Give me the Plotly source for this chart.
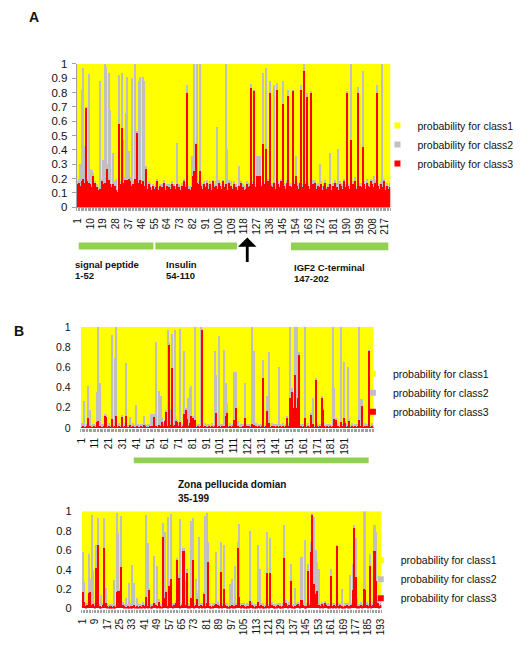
import plotly.graph_objects as go

W, H = 523, 645
def px(x): return x / W
def py(y): return 1 - y / H

# ---------------- Data ----------------
# Panel A (IGF2) : class3 (red) and class2 (gray) probabilities per residue
A_class3 = [
 .16,.17,.15,.18,.20,.17,.69,.18,.17,.16,
 .14,.22,.17,.13,.14,.12,.13,.18,.16,.17,
 .15,.27,.19,.16,.14,.16,.15,.12,.11,.58,
 .16,.55,.17,.19,.18,.19,.20,.18,.15,.16,
 .20,.14,.52,.17,.19,.16,.18,.15,.27,.13,
 .16,.14,.12,.15,.13,.14,.18,.12,.15,.14,
 .13,.17,.12,.15,.14,.13,.16,.14,.15,.13,
 .16,.14,.12,.15,.13,.18,.14,.80,.13,.12,
 .14,.22,.25,.44,.17,.16,.25,.15,.13,.16,
 .14,.17,.13,.16,.12,.18,.14,.15,.13,.17,
 .15,.13,.18,.14,.16,.12,.17,.14,.15,.13,
 .16,.14,.12,.15,.13,.17,.14,.12,.13,.16,
 .14,.15,.83,.16,.81,.14,.22,.22,.22,.15,
 .44,.16,.41,.13,.18,.80,.15,.14,.17,.13,
 .82,.16,.14,.18,.72,.15,.13,.17,.78,.15,
 .14,.81,.16,.22,.15,.13,.17,.82,.14,.95,
 .16,.77,.15,.13,.80,.16,.14,.17,.13,.15,
 .14,.16,.12,.15,.17,.13,.14,.16,.12,.15,
 .13,.17,.14,.12,.16,.15,.13,.18,.14,.80,
 .15,.13,.47,.16,.14,.18,.13,.80,.15,.14,
 .42,.16,.13,.17,.15,.14,.18,.16,.14,.17,
 .80,.15,.13,.16,.14,.18,.12,.15,.13,.14]
A_class2 = [
 .02,.03,.15,.64,.77,.26,.01,.02,.76,.11,
 .12,.02,.01,.03,.02,.02,.75,.02,.17,.83,
 .83,.03,.75,.52,.02,.22,.03,.08,.02,.34,
 .02,.39,.30,.02,.48,.72,.19,.03,.75,.02,
 .80,.02,.01,.71,.72,.03,.73,.73,.02,.02,
 .02,.03,.02,.01,.02,.03,.02,.02,.01,.02,
 .03,.02,.02,.01,.02,.03,.02,.02,.01,.02,
 .29,.02,.03,.02,.01,.02,.02,.05,.02,.03,
 .22,.02,.75,.01,.83,.02,.75,.02,.03,.02,
 .01,.02,.03,.02,.02,.01,.02,.03,.43,.02,
 .02,.03,.01,.02,.84,.29,.02,.02,.03,.01,
 .02,.02,.03,.14,.02,.01,.02,.03,.02,.02,
 .03,.02,.03,.02,.01,.02,.14,.14,.14,.02,
 .50,.02,.56,.03,.02,.08,.02,.03,.68,.02,
 .05,.02,.03,.02,.16,.02,.03,.02,.04,.02,
 .03,.01,.02,.14,.02,.03,.02,.03,.02,.05,
 .02,.03,.02,.02,.01,.03,.02,.02,.03,.02,
 .16,.02,.03,.02,.02,.01,.02,.22,.03,.02,
 .02,.02,.03,.29,.02,.02,.03,.02,.02,.01,
 .02,.03,.53,.02,.02,.03,.02,.04,.02,.03,
 .53,.02,.02,.03,.02,.02,.02,.03,.08,.02,
 .05,.02,.03,.02,.86,.02,.03,.02,.02,.03]
A_ticks = [1,10,19,28,37,46,55,64,73,82,91,100,109,118,127,136,145,154,163,172,181,190,199,208,217]

# Panel B, upper chart
B1_class3 = [
 .01,.02,.01,.01,.02,.10,.02,.01,.01,.02,
 .01,.06,.07,.02,.01,.01,.02,.12,.11,.01,
 .02,.01,.09,.01,.02,.12,.01,.02,.01,.11,
 .01,.02,.12,.01,.01,.03,.01,.02,.01,.01,
 .02,.01,.01,.02,.01,.03,.02,.01,.01,.02,
 .01,.02,.11,.01,.02,.01,.03,.02,.06,.02,
 .07,.16,.02,.82,.03,.59,.02,.03,.07,.06,
 .02,.06,.01,.02,.14,.18,.09,.02,.05,.12,
 .10,.02,.08,.01,.02,.01,.02,.97,.01,.02,
 .01,.01,.02,.01,.02,.01,.02,.15,.01,.02,
 .01,.02,.01,.02,.12,.15,.01,.02,.01,.02,
 .08,.20,.01,.02,.01,.01,.02,.01,.10,.02,
 .01,.02,.01,.04,.03,.01,.02,.01,.02,.01,
 .02,.50,.01,.02,.17,.05,.01,.02,.01,.02,
 .01,.02,.01,.02,.01,.02,.01,.02,.10,.02,
 .30,.20,.36,.20,.53,.20,.30,.72,.02,.01,
 .02,.10,.01,.02,.01,.13,.02,.04,.01,.48,
 .02,.01,.02,.30,.18,.02,.01,.02,.01,.02,
 .01,.02,.09,.08,.01,.02,.01,.06,.02,.10,
 .05,.01,.02,.07,.01,.02,.01,.02,.01,.02,
 .08,.02,.22,.01,.02,.01,.02,.76,.01,.02,
 .01]
B1_class2 = [
 .04,.02,.26,.01,.02,.32,.16,.02,.03,.02,
 .02,.30,.93,.43,.02,.03,.02,.01,.01,.02,
 .03,.02,.83,.02,.67,.88,.02,.03,.02,.01,
 .02,.03,.52,.02,.02,.08,.02,.03,.02,.22,
 .02,.03,.02,.02,.03,.09,.02,.02,.03,.02,
 .13,.12,.03,.02,.83,.02,.34,.30,.04,.02,
 .01,.01,.95,.03,.16,.34,.02,.94,.02,.02,
 .03,.92,.02,.02,.62,.01,.02,.28,.35,.30,
 .02,.03,.92,.02,.02,.03,.98,.01,.02,.03,
 .02,.03,.02,.02,.03,.02,.74,.38,.02,.89,
 .03,.02,.02,.75,.33,.10,.02,.03,.02,.02,
 .47,.35,.02,.05,.02,.03,.02,.02,.35,.02,
 .03,.02,.02,.96,.73,.02,.03,.02,.02,.03,
 .02,.17,.02,.03,.15,.70,.02,.03,.02,.02,
 .03,.02,.59,.02,.02,.03,.02,.02,.01,.03,
 .70,.05,.04,.15,.47,.80,.30,.03,.02,.03,
 .02,.90,.02,.03,.02,.01,.02,.26,.02,.02,
 .03,.02,.02,.02,.01,.03,.02,.02,.03,.02,
 .02,.98,.31,.01,.02,.03,.02,.94,.02,.55,
 .02,.03,.58,.02,.02,.03,.02,.02,.03,.02,
 .92,.27,.07,.02,.03,.02,.02,.01,.02,.03,
 .02]
B1_ticks = [1,11,21,31,41,51,61,71,81,91,101,111,121,131,141,151,161,171,181,191]

# Panel B, lower chart
B2_class3 = [
 .17,.06,.02,.03,.16,.17,.03,.04,.02,.41,
 .65,.02,.01,.03,.62,.05,.02,.01,.02,.01,
 .02,.01,.17,.18,.18,.42,.03,.02,.01,.02,
 .01,.02,.02,.03,.01,.02,.01,.02,.01,.03,
 .02,.12,.02,.19,.01,.02,.05,.03,.02,.06,
 .02,.01,.73,.10,.17,.02,.23,.30,.02,.03,
 .05,.50,.31,.02,.03,.59,.03,.36,.02,.02,
 .10,.50,.02,.03,.09,.02,.03,.02,.15,.02,
 .05,.48,.02,.01,.02,.03,.04,.03,.02,.37,
 .02,.20,.03,.02,.01,.02,.03,.02,.02,.03,
 .62,.12,.02,.03,.02,.01,.02,.02,.07,.03,
 .02,.01,.02,.06,.02,.03,.02,.01,.02,.36,
 .02,.36,.03,.02,.01,.02,.03,.02,.01,.02,
 .52,.05,.02,.03,.28,.02,.01,.02,.03,.04,
 .02,.08,.03,.02,.02,.38,.03,.58,.96,.25,
 .15,.18,.03,.02,.04,.02,.05,.03,.02,.02,
 .33,.02,.03,.02,.64,.02,.03,.02,.01,.02,
 .03,.02,.02,.03,.19,.82,.32,.02,.02,.03,
 .02,.20,.19,.03,.02,.43,.02,.03,.59,.28,
 .05,.02,.03]
B2_class2 = [
 .41,.21,.03,.02,.40,.13,.93,.34,.03,.24,
 .28,.02,.13,.02,.31,.16,.03,.02,.02,.03,
 .27,.02,.81,.59,.02,.53,.03,.02,.09,.02,
 .25,.03,.42,.23,.02,.08,.03,.02,.02,.03,
 .02,.84,.65,.01,.03,.02,.49,.02,.41,.03,
 .02,.03,.15,.68,.01,.92,.05,.67,.03,.02,
 .03,.02,.04,.90,.02,.03,.25,.04,.03,.02,
 .80,.43,.03,.27,.09,.71,.02,.03,.01,.93,
 .93,.20,.03,.02,.03,.02,.54,.03,.02,.31,
 .03,.45,.02,.03,.02,.23,.27,.03,.41,.02,
 .06,.75,.03,.02,.03,.02,.03,.02,.72,.03,
 .02,.03,.02,.59,.38,.02,.03,.02,.03,.42,
 .02,.36,.03,.02,.03,.02,.02,.03,.02,.03,
 .34,.03,.02,.03,.17,.02,.03,.19,.02,.02,
 .03,.45,.02,.68,.03,.07,.02,.10,.01,.69,
 .45,.30,.37,.02,.02,.03,.02,.02,.03,.02,
 .07,.03,.02,.02,.01,.03,.02,.18,.02,.03,
 .02,.03,.32,.02,.26,.04,.40,.08,.02,.03,
 .02,.80,.81,.03,.02,.13,.02,.03,.27,.50,
 .03,.02,.03]
B2_ticks = [1,9,17,25,33,41,49,57,65,73,81,89,97,105,113,121,129,137,145,153,161,169,177,185,193]

names = ["probability for class1", "probability for class2", "probability for class3"]
colors = ["#FFFF00", "#C0C0C0", "#FF0000"]

FONT = "Arial, Liberation Sans, sans-serif"

fig = go.Figure()
panels = [
    (A_class3, A_class2, "x", "y", "legend"),
    (B1_class3, B1_class2, "x2", "y2", "legend2"),
    (B2_class3, B2_class2, "x3", "y3", "legend3"),
]
for c3, c2, xa, ya, lg in panels:
    assert len(c3) == len(c2)
    pos = list(range(1, len(c3) + 1))
    # class1 is the remainder of the probability (the three classes sum to 1)
    c1 = [max(0.0, round(1 - a - b, 3)) for a, b in zip(c3, c2)]
    base2 = list(c3)                                   # class2 sits on class3
    base1 = [round(a + b, 3) for a, b in zip(c3, c2)]  # class1 sits on class2
    # drawn back-to-front so thin red / gray peaks stay visible
    for vals, base, nm, col in [(c1, base1, names[0], colors[0]),
                                (c2, base2, names[1], colors[1]),
                                (c3, [0] * len(c3), names[2], colors[2])]:
        fig.add_trace(go.Bar(x=pos, y=vals, base=base, name=nm,
                             marker=dict(color=col, line=dict(width=0, color=col)),
                             xaxis=xa, yaxis=ya, showlegend=False, hoverinfo="skip"))
    # legend entries (small square keys, like the original)
    for nm, col in zip(names, colors):
        fig.add_trace(go.Scatter(x=[None], y=[None], mode="markers", name=nm,
                                 marker=dict(symbol="square", size=6, color=col),
                                 xaxis=xa, yaxis=ya, legend=lg, showlegend=True, hoverinfo="skip"))

def xaxis(dom, anchor, n, ticks, font_size, standoff, line):
    return dict(domain=dom, anchor=anchor, range=[0.5, n + 0.5], tickmode="array",
                tickvals=ticks, ticktext=[str(t) for t in ticks], tickangle=-90,
                tickfont=dict(family=FONT, size=font_size, color="#111"),
                showgrid=False, zeroline=False, showline=line, linecolor="#A0A0A0", linewidth=1,
                ticks="", ticklabelstandoff=standoff,
                minor=dict(ticks="outside", tickmode="linear", tick0=0.5, dtick=1, ticklen=3,
                           tickcolor="#A0A0A0", tickwidth=1, showgrid=False))

def yaxis(dom, anchor, dt, font_size, line, standoff):
    d = dict(domain=dom, anchor=anchor, range=[0, 1.0], dtick=dt, tick0=0,
             tickfont=dict(family=FONT, size=font_size, color="#111"),
             showgrid=False, zeroline=False, showline=line, linecolor="#A0A0A0", linewidth=1,
             ticklabelstandoff=standoff)
    if line:
        d.update(ticks="outside", ticklen=4, tickcolor="#A0A0A0")
    else:
        d.update(ticks="")
    return d

legend_common = dict(xanchor="left", yanchor="top", bgcolor="rgba(0,0,0,0)",
                     font=dict(family=FONT, size=10.5, color="#111"), traceorder="normal",
                     tracegroupgap=0, itemclick=False, itemdoubleclick=False)

fig.update_layout(
    width=W, height=H, autosize=False,
    margin=dict(l=0, r=0, t=0, b=0),
    paper_bgcolor="white", plot_bgcolor="white",
    barmode="overlay", bargap=0.0,
    xaxis=xaxis([px(73), px(392)], "y", len(A_class3), A_ticks, 10, 6, True),
    yaxis=yaxis([py(205), py(59)], "x", 0.1, 11.5, True, 2),
    xaxis2=xaxis([px(77), px(375)], "y2", len(B1_class3), B1_ticks, 10, 7, False),
    yaxis2=yaxis([py(430), py(327)], "x2", 0.2, 10.5, False, 9),
    xaxis3=xaxis([px(78), px(383)], "y3", len(B2_class3), B2_ticks, 10, 7, False),
    yaxis3=yaxis([py(614), py(515)], "x3", 0.2, 11, False, 9),
    legend=dict(x=px(379), y=py(107), **legend_common),
    legend2=dict(x=px(354), y=py(360), **legend_common),
    legend3=dict(x=px(362), y=py(550), **legend_common),
)

green = "#92D050"
for x0, x1, y0, y1 in [(75, 151, 241, 248), (153, 236, 241, 248), (291, 390, 241, 249), (131, 370, 460, 466)]:
    fig.add_shape(type="rect", xref="paper", yref="paper", x0=px(x0), x1=px(x1),
                  y0=py(y1), y1=py(y0), fillcolor=green, line=dict(width=0))

def label(text, x, y, size=9.5, bold=True):
    fig.add_annotation(text=f"<b>{text}</b>" if bold else text, xref="paper", yref="paper",
                       x=px(x), y=py(y), xanchor="left", yanchor="middle", showarrow=False,
                       font=dict(family=FONT, size=size, color="#111"))

label("A", 22, 11, 14)
label("B", 7, 331, 14)
label("signal peptide", 69, 263)
label("1-52", 69, 275)
label("Insulin", 162, 263)
label("54-110", 162, 275)
label("IGF2 C-terminal", 292, 266)
label("147-202", 292, 278)
label("Zona pellucida domian", 174, 488, 10)
label("35-199", 174, 502, 10)

fig.add_annotation(text="", xref="paper", yref="paper", x=px(246.5), y=py(236),
                   ax=0, ay=26, showarrow=True, arrowhead=1, arrowsize=1.1, arrowwidth=2.8,
                   arrowcolor="#000")

fig.write_html("out.html", config={"displayModeBar": False},
               post_script="document.body.style.margin='0';")
